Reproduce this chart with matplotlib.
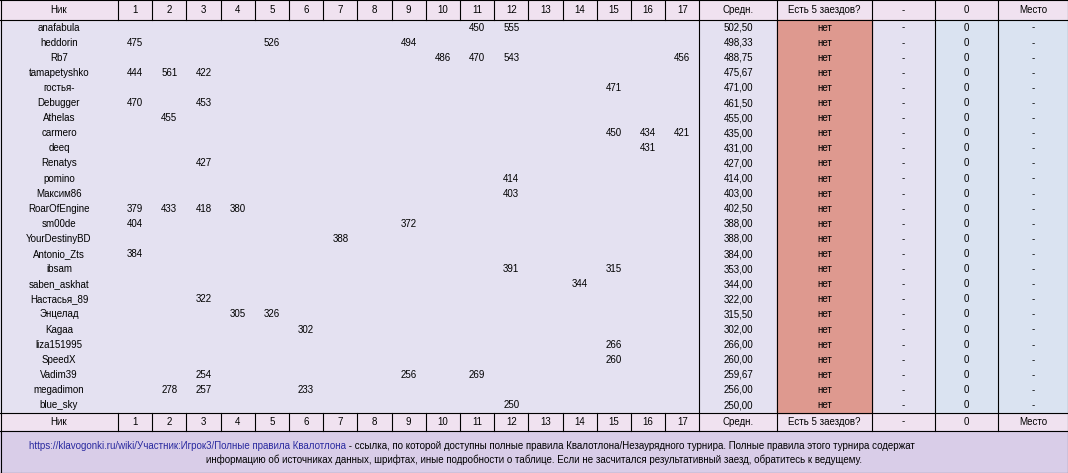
import matplotlib
matplotlib.use("Agg")
import matplotlib.pyplot as plt
from matplotlib.patches import Rectangle

names = ["anafabula","heddorin","Rb7","tamapetyshko","гостья-","Debugger","Athelas","carmero","deeq",
         "Renatys","pomino","Максим86","RoarOfEngine","sm00de","YourDestinyBD","Antonio_Zts","ibsam",
         "saben_askhat","Настасья_89","Энцелад","Kagaa","liza151995","SpeedX","Vadim39","megadimon","blue_sky"]
results = [
    {11:450,12:555},{1:475,5:526,9:494},{10:486,11:470,12:543,17:456},{1:444,2:561,3:422},{15:471},
    {1:470,3:453},{2:455},{15:450,16:434,17:421},{16:431},{3:427},{12:414},{12:403},
    {1:379,2:433,3:418,4:380},{1:404,9:372},{7:388},{1:384},{12:391,15:315},{14:344},{3:322},
    {4:305,5:326},{6:302},{15:266},{15:260},{3:254,9:256,11:269},{2:278,3:257,6:233},{12:250}]
averages = ["502,50","498,33","488,75","475,67","471,00","461,50","455,00","435,00","431,00","427,00",
            "414,00","403,00","402,50","388,00","388,00","384,00","353,00","344,00","322,00","315,50",
            "302,00","266,00","260,00","259,67","256,00","250,00"]
has5 = ["нет"]*len(names)
dash_col = ["-"]*len(names)
zero_col = ["0"]*len(names)
place = ["-"]*len(names)
headers = ["Ник"] + [str(i) for i in range(1,18)] + ["Средн.","Есть 5 заездов?","-","0","Место"]

W, H = 1068, 473
fig = plt.figure(figsize=(W/100, H/100), dpi=100)
ax = fig.add_axes([0,0,1,1])
ax.set_xlim(0, W); ax.set_ylim(H, 0); ax.axis("off")
plt.rcParams['font.family'] = ['Liberation Sans','DejaVu Sans']

edges = [0,118] + [118 + 34.2*i for i in range(1,18)] + [777,872,935,998,1068]
hdr_h = 20; row_h = 15.1
body_top = hdr_h; body_bot = body_top + row_h*len(names)
fh_top = body_bot; fh_bot = fh_top + 18
BODY = "#E4E1F1"; HDR = "#F0E2F0"; PINK = "#DE998F"; BLUE = "#DAE3F1"; NOTE = "#D9CDE8"
fs = 7

ax.add_patch(Rectangle((0,0), W, H, color=BODY, zorder=0))
for y0, y1 in [(0,hdr_h),(fh_top,fh_bot)]:
    ax.add_patch(Rectangle((0,y0), W, y1-y0, color=HDR, zorder=1))
ax.add_patch(Rectangle((edges[19], body_top), edges[20]-edges[19], body_bot-body_top, color=PINK, zorder=1))
ax.add_patch(Rectangle((edges[21], body_top), W-edges[21], body_bot-body_top, color=BLUE, zorder=1))
ax.add_patch(Rectangle((0, fh_bot), W, H-fh_bot, color=NOTE, zorder=1))

cx = [(edges[i]+edges[i+1])/2 for i in range(len(edges)-1)]
for y0, y1 in [(0,hdr_h),(fh_top,fh_bot)]:
    for i, h in enumerate(headers):
        ax.text(cx[i], (y0+y1)/2, h, ha="center", va="center", fontsize=fs, zorder=3)
    for e in edges[1:-1]:
        ax.plot([e,e],[y0,y1], color="black", lw=0.8, zorder=3)
    ax.plot([0,W],[y0,y0], color="black", lw=0.8, zorder=3)
    ax.plot([0,W],[y1,y1], color="black", lw=0.8, zorder=3)
for e in [edges[18], edges[19], edges[20], edges[21], edges[22]]:
    ax.plot([e,e],[body_top,body_bot], color="black", lw=0.8, zorder=3)
ax.plot([0,W],[H-0.5,H-0.5], color="black", lw=0.8, zorder=3)
ax.plot([0.5,0.5],[0,H], color="black", lw=0.8, zorder=3)
ax.plot([W-0.5,W-0.5],[0,H], color="black", lw=0.8, zorder=3)

for r, nm in enumerate(names):
    y = body_top + row_h*(r+0.5)
    ax.text(cx[0], y, nm, ha="center", va="center", fontsize=fs, zorder=3)
    for k, v in results[r].items():
        ax.text(cx[k], y, str(v), ha="center", va="center", fontsize=fs, zorder=3)
    ax.text(cx[18], y, averages[r], ha="center", va="center", fontsize=fs, zorder=3)
    ax.text(cx[19], y, has5[r], ha="center", va="center", fontsize=fs, zorder=3)
    ax.text(cx[20], y, dash_col[r], ha="center", va="center", fontsize=fs, zorder=3)
    ax.text(cx[21], y, zero_col[r], ha="center", va="center", fontsize=fs, zorder=3)
    ax.text(cx[22], y, place[r], ha="center", va="center", fontsize=fs, zorder=3)

link = "https://klavogonki.ru/wiki/Участник:Игрок3/Полные правила Квалотлона"
rest = " - ссылка, по которой доступны полные правила Квалотлона/Незаурядного турнира. Полные правила этого турнира содержат"
line2 = "информацию об источниках данных, шрифтах, иные подробности о таблице. Если не засчитался результативный заезд, обратитесь к ведущему."
ax.text(346, 446, link, ha="right", va="center", fontsize=fs, color="#2A2AA0", zorder=3)
ax.text(346, 446, rest, ha="left", va="center", fontsize=fs, zorder=3)
ax.text(534, 460, line2, ha="center", va="center", fontsize=fs, zorder=3)

fig.savefig("out.png", dpi=100)
